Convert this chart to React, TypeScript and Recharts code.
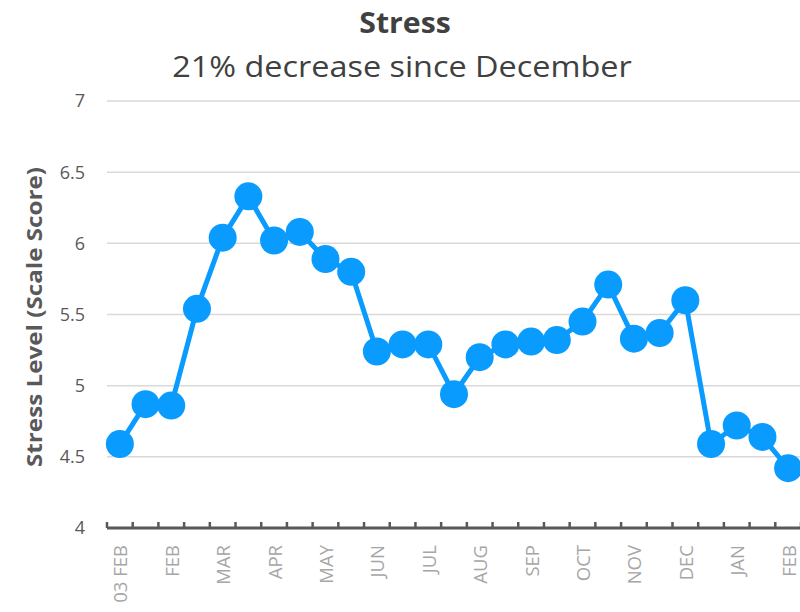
import { LineChart, Line, XAxis, YAxis, CartesianGrid } from 'recharts';

const monthLabels = ['03 FEB', 'FEB', 'MAR', 'APR', 'MAY', 'JUN', 'JUL', 'AUG', 'SEP', 'OCT', 'NOV', 'DEC', 'JAN', 'FEB'];
const stressValues = [
  4.59, 4.87, 4.86, 5.54, 6.04, 6.33, 6.02, 6.08, 5.89, 5.8, 5.24, 5.29, 5.29, 4.94,
  5.2, 5.29, 5.31, 5.32, 5.45, 5.71, 5.33, 5.37, 5.6, 4.59, 4.72, 4.64, 4.42,
];
const yTicks = [4, 4.5, 5, 5.5, 6, 6.5, 7];

const data = stressValues.map((v, i) => ({ i, stress: v }));
// tick marks sit between points, month labels on every other point
const edgeTicks = Array.from({ length: stressValues.length + 1 }, (_, k) => k - 0.5);
const labelTicks = monthLabels.map((_, k) => k * 2);

const FONT = '"Open Sans", sans-serif';
const BLUE = '#0A9BFE';

function MonthTick(props: any) {
  const { x, y, payload } = props;
  const text = monthLabels[payload.value / 2];
  return (
    <text
      x={x}
      y={y}
      transform={`rotate(-90, ${x}, ${y})`}
      textAnchor="end"
      dominantBaseline="central"
      fill="#a6a6a6"
      fontSize={18.5}
      fontFamily={FONT}
    >
      {text}
    </text>
  );
}

// Excel-style tick: short mark pointing up into the plot
function EdgeTick(props: any) {
  const { x, y } = props;
  return <line x1={x} x2={x} y1={y} y2={y - 6} stroke="#595959" strokeWidth={2.5} />;
}

export default function App() {
  return (
    <div style={{ position: 'absolute', left: 0, top: 0, width: 800, height: 612, overflow: 'hidden', background: '#fff', fontFamily: FONT }}>
      <div style={{ position: 'absolute', left: 0, width: 810, top: 3, textAlign: 'center', fontSize: 28, fontWeight: 700, color: '#404040', transform: 'scaleX(1.08)' }}>
        Stress
      </div>
      <div style={{ position: 'absolute', left: -3, width: 810, top: 45, textAlign: 'center', fontSize: 30, color: '#404040', transform: 'scaleX(1.08)' }}>
        21% decrease since December
      </div>
      <div
        style={{
          position: 'absolute',
          left: 33,
          top: 317,
          transform: 'translate(-50%, -50%) rotate(-90deg) scaleX(1.1)',
          whiteSpace: 'nowrap',
          fontSize: 22,
          fontWeight: 700,
          color: '#595959',
        }}
      >
        Stress Level (Scale Score)
      </div>
      <LineChart width={810} height={612} data={data} margin={{ top: 101, right: 9, left: 0, bottom: 0 }}>
        <CartesianGrid xAxisId="edge" vertical={false} stroke="#d9d9d9" strokeWidth={1.5} />
        <XAxis
          xAxisId="edge"
          dataKey="i"
          type="number"
          domain={[-0.5, stressValues.length - 0.5]}
          ticks={edgeTicks}
          interval={0}
          height={1}
          tick={<EdgeTick />}
          tickSize={0}
          tickMargin={0}
          tickLine={false}
          axisLine={{ stroke: '#595959', strokeWidth: 3 }}
        />
        <XAxis
          xAxisId="label"
          dataKey="i"
          type="number"
          domain={[-0.5, stressValues.length - 0.5]}
          ticks={labelTicks}
          interval={0}
          height={83}
          axisLine={false}
          tickLine={false}
          tickSize={0}
          tickMargin={16}
          tick={<MonthTick />}
        />
        <YAxis
          domain={[4, 7]}
          ticks={yTicks}
          width={107}
          axisLine={false}
          tickLine={false}
          tickMargin={16}
          tick={{ fill: '#595959', fontSize: 18, fontFamily: FONT }}
        />
        <Line
          xAxisId="edge"
          dataKey="stress"
          stroke={BLUE}
          strokeWidth={5}
          dot={{ r: 14, fill: BLUE, stroke: 'none' }}
          activeDot={false}
          isAnimationActive={false}
        />
      </LineChart>
    </div>
  );
}
